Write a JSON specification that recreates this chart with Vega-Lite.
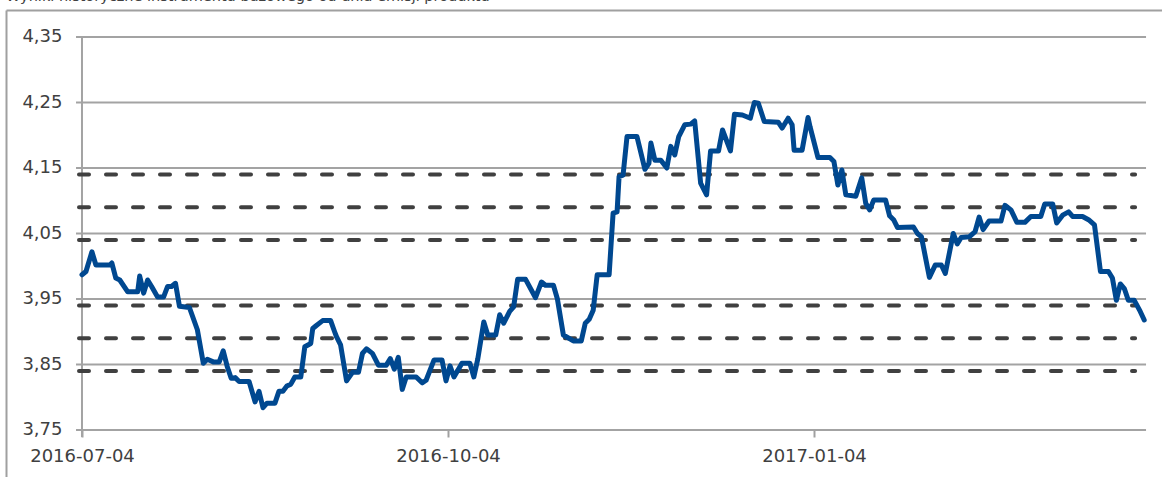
{
  "$schema": "https://vega.github.io/schema/vega-lite/v6.json",
  "autosize": {"type": "none"},
  "width": 1156,
  "height": 467,
  "padding": {"left": 6, "top": 10, "right": 0, "bottom": 0},
  "background": "white",
  "config": {"font": "DejaVu Sans", "view": {"stroke": null}},
  "title": {
    "text": "Wyniki historyczne instrumentu bazowego od dnia emisji produktu",
    "anchor": "start",
    "frame": "group",
    "offset": 3,
    "dy": 8,
    "baseline": "alphabetic",
    "fontSize": 14.5,
    "fontWeight": "normal",
    "color": "#404040"
  },
  "datasets": {
    "series": [
      {"d": "2016-07-04", "v": 3.987}, {"d": "2016-07-05", "v": 3.992}, {"d": "2016-07-06T12:00:00Z", "v": 4.022},
      {"d": "2016-07-07T12:00:00Z", "v": 4.002}, {"d": "2016-07-11", "v": 4.002}, {"d": "2016-07-11T12:00:00Z", "v": 4.005},
      {"d": "2016-07-12T12:00:00Z", "v": 3.982}, {"d": "2016-07-13T12:00:00Z", "v": 3.979}, {"d": "2016-07-15T12:00:00Z", "v": 3.961},
      {"d": "2016-07-18", "v": 3.961}, {"d": "2016-07-18T12:00:00Z", "v": 3.985}, {"d": "2016-07-19T12:00:00Z", "v": 3.959},
      {"d": "2016-07-20T12:00:00Z", "v": 3.979}, {"d": "2016-07-21T12:00:00Z", "v": 3.969}, {"d": "2016-07-23", "v": 3.953},
      {"d": "2016-07-24T12:00:00Z", "v": 3.953}, {"d": "2016-07-25T12:00:00Z", "v": 3.969}, {"d": "2016-07-26T12:00:00Z", "v": 3.969},
      {"d": "2016-07-27T12:00:00Z", "v": 3.974}, {"d": "2016-07-28T12:00:00Z", "v": 3.939}, {"d": "2016-07-31", "v": 3.937},
      {"d": "2016-08-02", "v": 3.903}, {"d": "2016-08-03T12:00:00Z", "v": 3.852}, {"d": "2016-08-04T12:00:00Z", "v": 3.858},
      {"d": "2016-08-06", "v": 3.854}, {"d": "2016-08-07T12:00:00Z", "v": 3.854}, {"d": "2016-08-08T12:00:00Z", "v": 3.871},
      {"d": "2016-08-09T12:00:00Z", "v": 3.847}, {"d": "2016-08-10T12:00:00Z", "v": 3.829}, {"d": "2016-08-11T12:00:00Z", "v": 3.830},
      {"d": "2016-08-12T12:00:00Z", "v": 3.824}, {"d": "2016-08-15", "v": 3.824}, {"d": "2016-08-16T12:00:00Z", "v": 3.793},
      {"d": "2016-08-17T12:00:00Z", "v": 3.809}, {"d": "2016-08-18T12:00:00Z", "v": 3.784}, {"d": "2016-08-19T12:00:00Z", "v": 3.791},
      {"d": "2016-08-21T12:00:00Z", "v": 3.791}, {"d": "2016-08-22T12:00:00Z", "v": 3.809}, {"d": "2016-08-23T12:00:00Z", "v": 3.809},
      {"d": "2016-08-24T12:00:00Z", "v": 3.817}, {"d": "2016-08-25T12:00:00Z", "v": 3.820}, {"d": "2016-08-26T12:00:00Z", "v": 3.831},
      {"d": "2016-08-28", "v": 3.831}, {"d": "2016-08-29", "v": 3.877}, {"d": "2016-08-30T12:00:00Z", "v": 3.882},
      {"d": "2016-08-31", "v": 3.905}, {"d": "2016-09-01", "v": 3.910}, {"d": "2016-09-02T12:00:00Z", "v": 3.917},
      {"d": "2016-09-04T12:00:00Z", "v": 3.917}, {"d": "2016-09-05T12:00:00Z", "v": 3.900}, {"d": "2016-09-06", "v": 3.892},
      {"d": "2016-09-07", "v": 3.880}, {"d": "2016-09-08T12:00:00Z", "v": 3.825}, {"d": "2016-09-10", "v": 3.838},
      {"d": "2016-09-11T12:00:00Z", "v": 3.838}, {"d": "2016-09-12T12:00:00Z", "v": 3.867}, {"d": "2016-09-13T12:00:00Z", "v": 3.874},
      {"d": "2016-09-15", "v": 3.867}, {"d": "2016-09-16T12:00:00Z", "v": 3.849}, {"d": "2016-09-18T12:00:00Z", "v": 3.849},
      {"d": "2016-09-19T12:00:00Z", "v": 3.859}, {"d": "2016-09-20T12:00:00Z", "v": 3.843}, {"d": "2016-09-21T12:00:00Z", "v": 3.861},
      {"d": "2016-09-22T12:00:00Z", "v": 3.812}, {"d": "2016-09-23T12:00:00Z", "v": 3.831}, {"d": "2016-09-26", "v": 3.831},
      {"d": "2016-09-27T12:00:00Z", "v": 3.822}, {"d": "2016-09-28T12:00:00Z", "v": 3.826}, {"d": "2016-09-30T12:00:00Z", "v": 3.857},
      {"d": "2016-10-02T12:00:00Z", "v": 3.857}, {"d": "2016-10-03T12:00:00Z", "v": 3.825}, {"d": "2016-10-04T12:00:00Z", "v": 3.848},
      {"d": "2016-10-05T12:00:00Z", "v": 3.831}, {"d": "2016-10-07T12:00:00Z", "v": 3.852}, {"d": "2016-10-09T12:00:00Z", "v": 3.852},
      {"d": "2016-10-10T12:00:00Z", "v": 3.831}, {"d": "2016-10-11T12:00:00Z", "v": 3.859}, {"d": "2016-10-13", "v": 3.915},
      {"d": "2016-10-14", "v": 3.895}, {"d": "2016-10-16", "v": 3.895}, {"d": "2016-10-17", "v": 3.926},
      {"d": "2016-10-18", "v": 3.913}, {"d": "2016-10-19T12:00:00Z", "v": 3.931}, {"d": "2016-10-20T12:00:00Z", "v": 3.938},
      {"d": "2016-10-21T12:00:00Z", "v": 3.980}, {"d": "2016-10-23T12:00:00Z", "v": 3.980}, {"d": "2016-10-26", "v": 3.952},
      {"d": "2016-10-27T12:00:00Z", "v": 3.976}, {"d": "2016-10-28T12:00:00Z", "v": 3.971}, {"d": "2016-10-30T12:00:00Z", "v": 3.971},
      {"d": "2016-10-31T12:00:00Z", "v": 3.950}, {"d": "2016-11-02", "v": 3.895}, {"d": "2016-11-04T12:00:00Z", "v": 3.886},
      {"d": "2016-11-06T12:00:00Z", "v": 3.886}, {"d": "2016-11-07T12:00:00Z", "v": 3.913}, {"d": "2016-11-08T12:00:00Z", "v": 3.919},
      {"d": "2016-11-09T12:00:00Z", "v": 3.933}, {"d": "2016-11-10T12:00:00Z", "v": 3.987}, {"d": "2016-11-13T12:00:00Z", "v": 3.987},
      {"d": "2016-11-14T12:00:00Z", "v": 4.081}, {"d": "2016-11-15T12:00:00Z", "v": 4.083}, {"d": "2016-11-16", "v": 4.137},
      {"d": "2016-11-17", "v": 4.139}, {"d": "2016-11-18", "v": 4.198}, {"d": "2016-11-20T12:00:00Z", "v": 4.198},
      {"d": "2016-11-22T12:00:00Z", "v": 4.148}, {"d": "2016-11-23T12:00:00Z", "v": 4.157}, {"d": "2016-11-24", "v": 4.188},
      {"d": "2016-11-25", "v": 4.162}, {"d": "2016-11-26T12:00:00Z", "v": 4.162}, {"d": "2016-11-28", "v": 4.150},
      {"d": "2016-11-29", "v": 4.183}, {"d": "2016-11-30", "v": 4.170}, {"d": "2016-12-01", "v": 4.198},
      {"d": "2016-12-02T12:00:00Z", "v": 4.216}, {"d": "2016-12-04", "v": 4.217}, {"d": "2016-12-05", "v": 4.222},
      {"d": "2016-12-06T12:00:00Z", "v": 4.127}, {"d": "2016-12-08", "v": 4.109}, {"d": "2016-12-09", "v": 4.176},
      {"d": "2016-12-11", "v": 4.176}, {"d": "2016-12-12", "v": 4.208}, {"d": "2016-12-14", "v": 4.176},
      {"d": "2016-12-15", "v": 4.232}, {"d": "2016-12-17", "v": 4.231}, {"d": "2016-12-19", "v": 4.226},
      {"d": "2016-12-20", "v": 4.250}, {"d": "2016-12-21", "v": 4.249}, {"d": "2016-12-22T12:00:00Z", "v": 4.221},
      {"d": "2016-12-26", "v": 4.220}, {"d": "2016-12-27", "v": 4.211}, {"d": "2016-12-28T12:00:00Z", "v": 4.226},
      {"d": "2016-12-29T12:00:00Z", "v": 4.216}, {"d": "2016-12-30", "v": 4.177}, {"d": "2017-01-01", "v": 4.177},
      {"d": "2017-01-02T12:00:00Z", "v": 4.227}, {"d": "2017-01-03", "v": 4.213}, {"d": "2017-01-05", "v": 4.166},
      {"d": "2017-01-08", "v": 4.166}, {"d": "2017-01-09", "v": 4.160}, {"d": "2017-01-10", "v": 4.124},
      {"d": "2017-01-11", "v": 4.147}, {"d": "2017-01-12", "v": 4.109}, {"d": "2017-01-14T12:00:00Z", "v": 4.107},
      {"d": "2017-01-16", "v": 4.135}, {"d": "2017-01-17", "v": 4.096}, {"d": "2017-01-18", "v": 4.086},
      {"d": "2017-01-19", "v": 4.101}, {"d": "2017-01-22", "v": 4.101}, {"d": "2017-01-23", "v": 4.077},
      {"d": "2017-01-24", "v": 4.071}, {"d": "2017-01-25", "v": 4.059}, {"d": "2017-01-29", "v": 4.060},
      {"d": "2017-01-30", "v": 4.050}, {"d": "2017-01-31", "v": 4.045}, {"d": "2017-02-02", "v": 3.983},
      {"d": "2017-02-03T12:00:00Z", "v": 4.002}, {"d": "2017-02-05", "v": 4.002}, {"d": "2017-02-06", "v": 3.989},
      {"d": "2017-02-08", "v": 4.050}, {"d": "2017-02-09", "v": 4.034}, {"d": "2017-02-10", "v": 4.044},
      {"d": "2017-02-12", "v": 4.045}, {"d": "2017-02-13T12:00:00Z", "v": 4.053}, {"d": "2017-02-14T12:00:00Z", "v": 4.075},
      {"d": "2017-02-15T12:00:00Z", "v": 4.056}, {"d": "2017-02-17", "v": 4.069}, {"d": "2017-02-20", "v": 4.069},
      {"d": "2017-02-21", "v": 4.093}, {"d": "2017-02-22T12:00:00Z", "v": 4.086}, {"d": "2017-02-24", "v": 4.067},
      {"d": "2017-02-26", "v": 4.067}, {"d": "2017-02-27T12:00:00Z", "v": 4.076}, {"d": "2017-03-02", "v": 4.076},
      {"d": "2017-03-03", "v": 4.095}, {"d": "2017-03-05", "v": 4.095}, {"d": "2017-03-06", "v": 4.066},
      {"d": "2017-03-07T12:00:00Z", "v": 4.078}, {"d": "2017-03-09", "v": 4.083}, {"d": "2017-03-10", "v": 4.076},
      {"d": "2017-03-12T12:00:00Z", "v": 4.076}, {"d": "2017-03-14", "v": 4.071}, {"d": "2017-03-15T12:00:00Z", "v": 4.063},
      {"d": "2017-03-17", "v": 3.992}, {"d": "2017-03-19", "v": 3.992}, {"d": "2017-03-20", "v": 3.982},
      {"d": "2017-03-21", "v": 3.948}, {"d": "2017-03-22", "v": 3.973}, {"d": "2017-03-23", "v": 3.966},
      {"d": "2017-03-24", "v": 3.948}, {"d": "2017-03-25T12:00:00Z", "v": 3.948}, {"d": "2017-03-27", "v": 3.931},
      {"d": "2017-03-28", "v": 3.918}
    ],
    "grid": [{"g": 3.75}, {"g": 3.85}, {"g": 3.95}, {"g": 4.05}, {"g": 4.15}, {"g": 4.25}, {"g": 4.35}],
    "levels": [{"level": 4.14}, {"level": 4.09}, {"level": 4.04}, {"level": 3.94}, {"level": 3.89}, {"level": 3.84}]
  },
  "resolve": {"axis": {"x": "independent", "y": "independent"}},
  "layer": [
    {
      "data": {"name": "grid"},
      "mark": {"type": "rule", "color": "#a3a3a3", "strokeWidth": 2},
      "encoding": {
        "y": {
          "field": "g", "type": "quantitative",
          "scale": {"domain": [3.67824, 4.39122], "zero": false, "nice": false},
          "axis": {
            "orient": "left", "offset": 0, "title": null,
            "domain": true, "domainColor": "#a0a0a0", "domainWidth": 2,
            "ticks": false, "tickSize": 0, "grid": false,
            "values": [3.75, 3.85, 3.95, 4.05, 4.15, 4.25, 4.35],
            "labelExpr": "replace(format(datum.value, '.2f'), '.', ',')",
            "labelAlign": "right", "labelBaseline": "middle", "labelPadding": -56,
            "labelFontSize": 18, "labelColor": "#404040", "labelFont": "DejaVu Sans",
            "labelOverlap": false, "labelFlush": false
          }
        },
        "x": {
          "datum": {"year": 2016, "month": 7, "date": 2, "hours": 12, "utc": true},
          "type": "temporal",
          "scale": {"type": "utc", "domain": [
            {"year": 2016, "month": 6, "date": 14, "hours": 21, "minutes": 36, "utc": true},
            {"year": 2017, "month": 4, "date": 1, "hours": 11, "minutes": 17, "utc": true}
          ]},
          "axis": {
            "orient": "top", "offset": 0, "title": null,
            "domain": true, "domainColor": "#a0a0a0", "domainWidth": 2,
            "ticks": false, "labels": false, "grid": false
          }
        },
        "x2": {"datum": {"year": 2017, "month": 3, "date": 28, "hours": 11, "utc": true}}
      }
    },
    {
      "data": {"values": [{"axisLine": "y"}]},
      "mark": {"type": "rule", "color": "#a3a3a3", "strokeWidth": 2},
      "encoding": {
        "x": {"datum": {"year": 2016, "month": 7, "date": 4, "utc": true}, "type": "temporal", "axis": null},
        "y": {"datum": 3.7393, "type": "quantitative", "axis": null},
        "y2": {"datum": 4.35}
      }
    },
    {
      "data": {"name": "levels"},
      "mark": {"type": "rule", "color": "#404040", "strokeWidth": 4, "strokeDash": [10, 17], "strokeCap": "round"},
      "encoding": {
        "y": {"field": "level", "type": "quantitative", "axis": null},
        "x": {"datum": {"year": 2016, "month": 7, "date": 3, "hours": 6, "utc": true}, "type": "temporal", "axis": null},
        "x2": {"datum": {"year": 2017, "month": 3, "date": 25, "hours": 17, "utc": true}}
      }
    },
    {
      "data": {"name": "series"},
      "mark": {"type": "line", "color": "#004890", "strokeWidth": 5, "strokeJoin": "round", "strokeCap": "round"},
      "encoding": {
        "x": {
          "field": "d", "type": "temporal",
          "axis": {
            "orient": "bottom", "offset": -47, "title": null,
            "domain": false, "grid": false,
            "ticks": true, "tickSize": 7, "tickColor": "#a0a0a0", "tickWidth": 2,
            "values": [
              {"year": 2016, "month": 7, "date": 4, "utc": true},
              {"year": 2016, "month": 10, "date": 4, "utc": true},
              {"year": 2017, "month": 1, "date": 4, "utc": true}
            ],
            "format": "%Y-%m-%d",
            "labelFontSize": 18, "labelColor": "#404040", "labelFont": "DejaVu Sans",
            "labelPadding": 10, "labelAlign": "center", "labelOverlap": false, "labelFlush": false
          }
        },
        "y": {"field": "v", "type": "quantitative", "axis": null}
      }
    }
  ]
}
